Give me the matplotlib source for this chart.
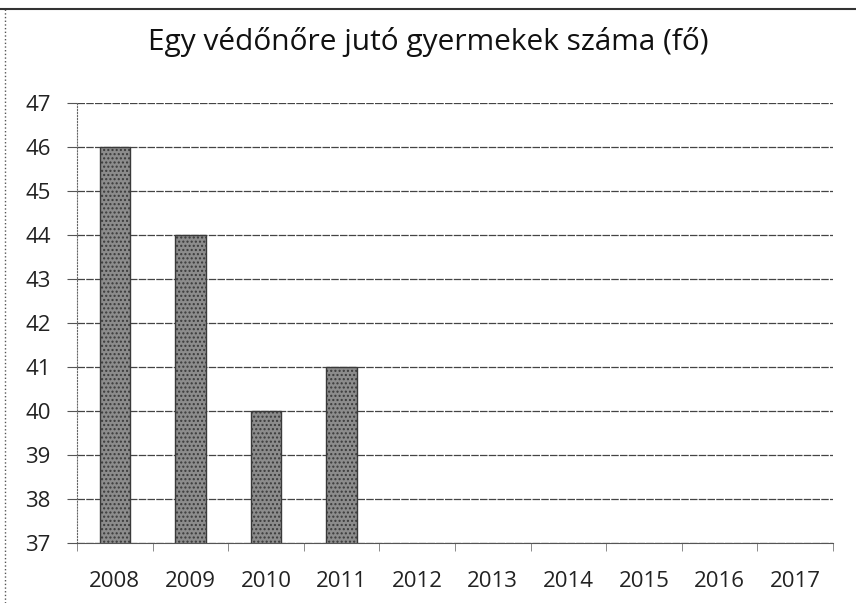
import numpy as np
import matplotlib.pyplot as plt

years = ['2008', '2009', '2010', '2011', '2012', '2013', '2014', '2015', '2016', '2017']
values = [46, 44, 40, 41, np.nan, np.nan, np.nan, np.nan, np.nan, np.nan]
yticks = [37, 38, 39, 40, 41, 42, 43, 44, 45, 46, 47]

plt.rcParams['font.family'] = ['Open Sans', 'DejaVu Sans']

fig = plt.figure(figsize=(8.56, 6.03), dpi=100)
ax = fig.add_axes([0.09, 0.0995, 0.883, 0.7295])

x = np.arange(len(years))
ax.bar(x, values, width=0.4, bottom=0, color='#8c8c8c', edgecolor='#3a3a3a',
       linewidth=1.0, hatch='....', zorder=3)

ax.set_ylim(37, 47)
ax.set_xlim(-0.5, len(years) - 0.5)
ax.set_yticks(yticks)
ax.set_yticklabels([str(t) for t in yticks], fontsize=16, color='#222222')
ax.set_xticks(x)
ax.set_xticklabels(years, fontsize=16, color='#222222')
ax.tick_params(axis='x', length=0, pad=20)
ax.tick_params(axis='y', length=7, direction='out', color='#555555', pad=12)
ax.set_xticks(np.arange(-0.5, len(years)), minor=True)
ax.tick_params(axis='x', which='minor', length=6, direction='out', color='#777777')

ax.grid(axis='y', color='#444444', linewidth=0.9, linestyle=(0, (6, 1)), zorder=0)
for s in ['top', 'right']:
    ax.spines[s].set_visible(False)
ax.spines['left'].set_color('#666666')
ax.spines['left'].set_linestyle(':')
ax.spines['bottom'].set_color('#555555')

fig.text(0.5, 0.93, 'Egy védőnőre jutó gyermekek száma (fő)', ha='center',
         va='center', fontsize=21.5, color='#111111')

# border of the scanned chart area
fig.add_artist(plt.Line2D([0.006, 0.006], [0.0, 0.985], color='#555555',
                          linewidth=1, linestyle=':'))
fig.add_artist(plt.Line2D([0.0, 1.0], [0.985, 0.985], color='#333333',
                          linewidth=1.5))

plt.savefig('out.png', dpi=100)
